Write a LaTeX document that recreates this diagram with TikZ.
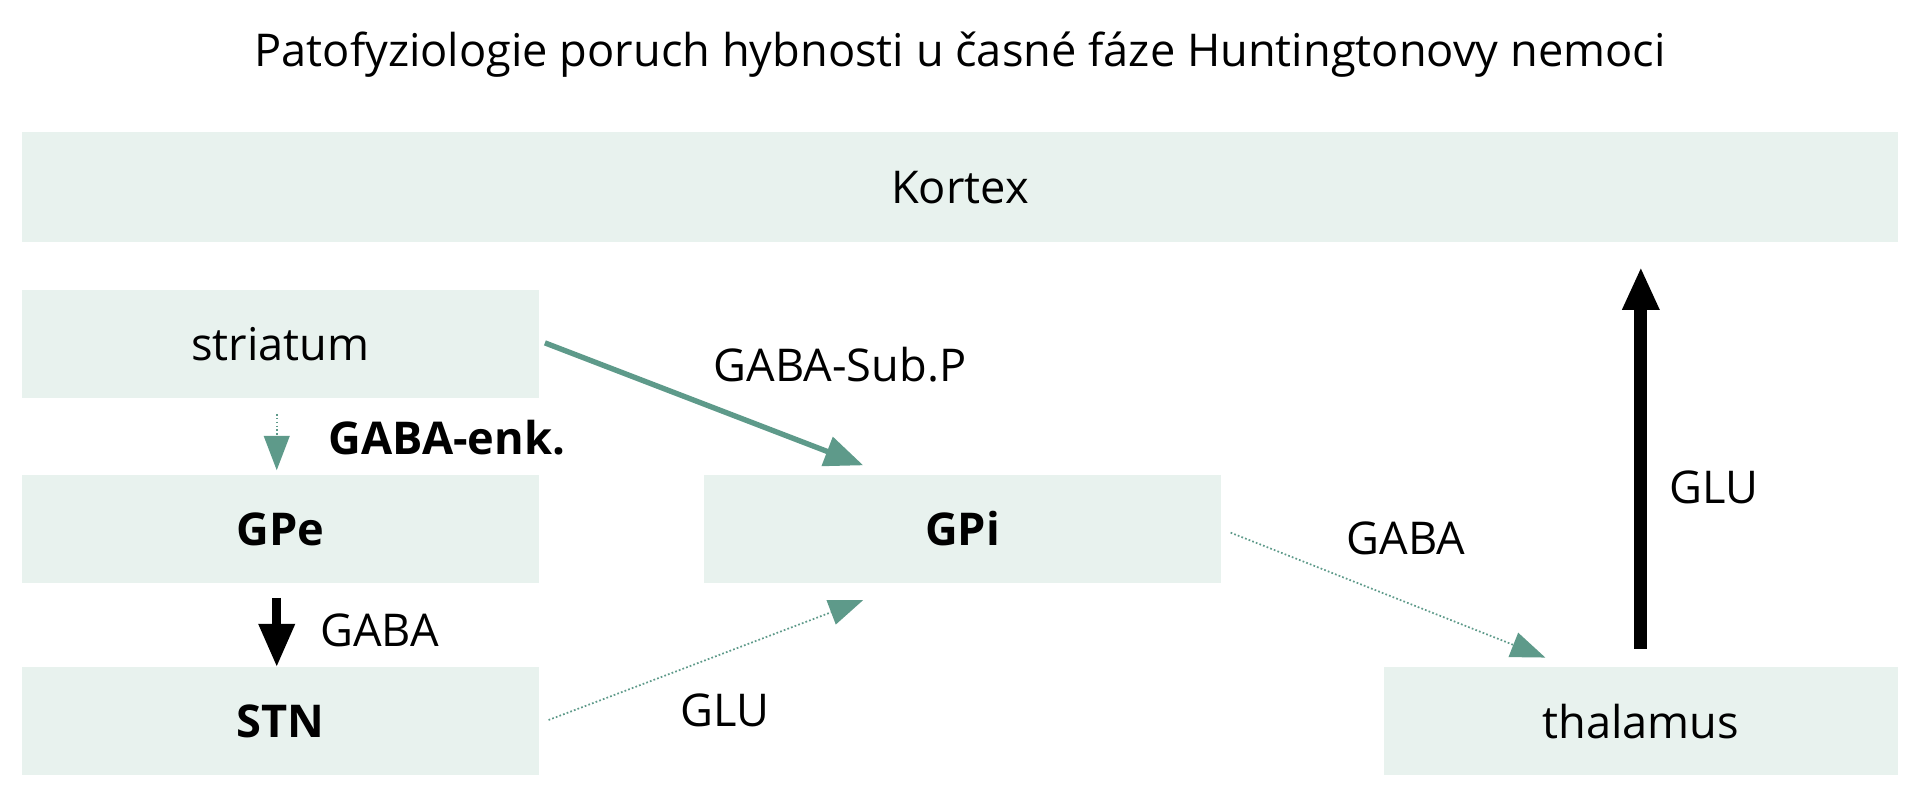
\documentclass[tikz,border=0pt]{standalone}
\usepackage{fontspec}
\setmainfont{Open Sans}
\usetikzlibrary{arrows.meta}
\definecolor{boxfill}{HTML}{E8F2EE}
\definecolor{teal}{HTML}{5E9A8A}
\tikzset{
  box/.style={fill=boxfill, inner sep=0pt, font=\fontsize{21}{24}\selectfont},
  lbl/.style={font=\fontsize{21}{24}\selectfont},
  main/.style={teal, line width=2.5pt, -{Triangle[length=18pt,width=14pt]}},
  weak/.style={teal, densely dotted, line width=0.8pt, -{Triangle[length=16pt,width=12pt]}},
  strong/.style={black, line width=4pt, -{Triangle[length=20pt,width=16pt]}},
}
\begin{document}
\begin{tikzpicture}[x=0.02cm, y=-0.02cm]
  \useasboundingbox (0,0) rectangle (1568,653);
  \node[lbl] (title) at (784,45) {Patofyziologie poruch hybnosti u časné fáze Huntingtonovy nemoci};
  \node[box, minimum width=30.64cm, minimum height=1.8cm] (Kortex) at (784,153) {Kortex};
  \node[box, minimum width=8.44cm, minimum height=1.76cm] (striatum) at (229,281) {striatum};
  \node[box, minimum width=8.44cm, minimum height=1.76cm] (GPe) at (229,432) {\textbf{GPe}};
  \node[box, minimum width=8.44cm, minimum height=1.76cm] (GPi) at (786,432) {\textbf{GPi}};
  \node[box, minimum width=8.44cm, minimum height=1.76cm] (STN) at (229,589) {\textbf{STN}};
  \node[box, minimum width=8.4cm, minimum height=1.76cm] (thalamus) at (1340,589) {thalamus};

  \coordinate (strOut) at (445,280);
  \coordinate (gpiIn1) at (705,380);
  \coordinate (enkOut) at (226,338);
  \coordinate (gpeIn) at (226,384);
  \coordinate (stnOut) at (448,588);
  \coordinate (gpiIn2) at (705,490);
  \coordinate (gpiOut) at (1005,435);
  \coordinate (thalIn) at (1262,537);
  \coordinate (thalOut) at (1340,530);
  \coordinate (kortIn) at (1340,218);

  \draw[main] (strOut) -- (gpiIn1);
  \draw[weak] (enkOut) -- (gpeIn);
  \draw[strong] (GPe.south -| gpeIn) ++(0,12) coordinate (gpeOut) -- (STN.north -| gpeIn);
  \draw[weak] (stnOut) -- (gpiIn2);
  \draw[weak] (gpiOut) -- (thalIn);
  \draw[strong, line width=6pt] (thalOut) -- (kortIn);

  \node[lbl] (lSubP) at (686,298) {GABA-Sub.P};
  \node[lbl] (lEnk) at (365,357) {\textbf{GABA-enk.}};
  \node[lbl] (lGaba1) at (310,515) {GABA};
  \node[lbl] (lGlu1) at (592,580) {GLU};
  \node[lbl] (lGaba2) at (1148,440) {GABA};
  \node[lbl] (lGlu2) at (1400,398) {GLU};
\end{tikzpicture}
\end{document}
